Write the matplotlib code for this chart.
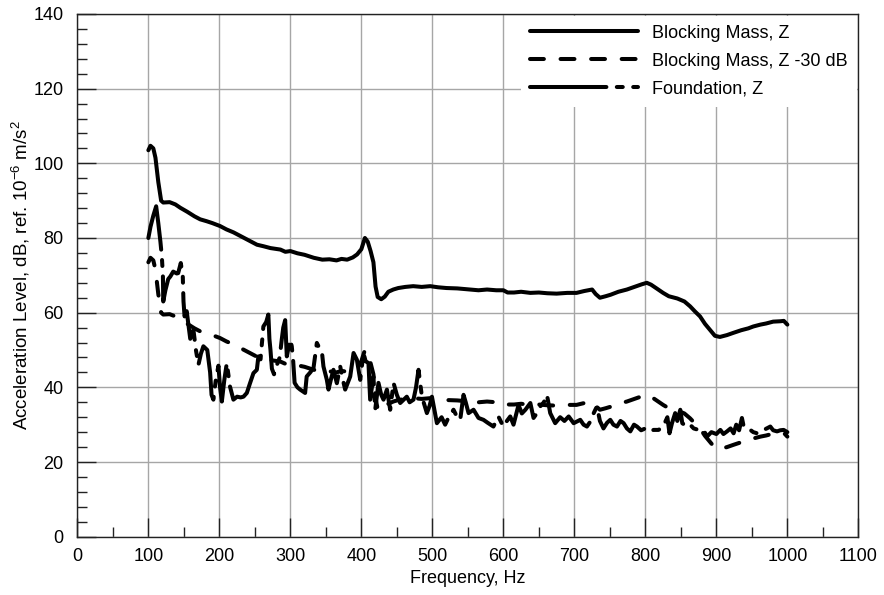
#!/usr/bin/env python

import numpy as np
import matplotlib
matplotlib.use("Agg")
import matplotlib.pyplot as plt
from matplotlib.ticker import MultipleLocator

# Blocking mass, Z (frequency in Hz, level in dB)
mass_freq = [100, 103, 107, 110, 114, 118, 121, 130, 138, 145, 155, 165, 173, 182,
             190, 201, 210, 220, 229, 240, 253, 262, 272, 286, 293, 300, 310, 320,
             333, 345, 355, 365, 372, 380, 388, 394, 400, 405, 409, 413, 417, 420,
             423, 428, 433, 438, 445, 452, 462, 473, 485, 497, 508, 520, 535, 553,
             565, 577, 590, 600, 606, 615, 625, 638, 650, 662, 675, 690, 703, 714,
             725, 730, 736, 744, 751, 762, 774, 786, 795, 802, 808, 815, 825, 833,
             845, 855, 863, 870, 877, 884, 891, 898, 905, 915, 924, 935, 945, 952,
             962, 970, 980, 990, 995, 1000]
mass_level = [103.5, 104.7, 104.0, 101.5, 95.0, 90.0, 89.5, 89.6, 89.0, 88.1, 87.0,
              85.8, 85.0, 84.5, 84.0, 83.2, 82.3, 81.5, 80.6, 79.5, 78.2, 77.8, 77.3,
              76.9, 76.3, 76.5, 75.9, 75.5, 74.7, 74.2, 74.3, 74.0, 74.4, 74.2, 74.8,
              75.6, 77.0, 80.0, 79.0, 76.5, 73.5, 67.0, 64.2, 63.6, 64.3, 65.6, 66.2,
              66.6, 66.9, 67.1, 66.9, 67.1, 66.8, 66.6, 66.5, 66.2, 66.0, 66.2, 66.0,
              66.0, 65.4, 65.4, 65.6, 65.3, 65.4, 65.2, 65.1, 65.3, 65.3, 65.8, 66.2,
              65.0, 64.0, 64.4, 64.8, 65.6, 66.2, 67.0, 67.6, 68.0, 67.5, 66.6, 65.3,
              64.4, 63.8, 63.0, 61.7, 60.3, 59.0, 57.0, 55.4, 53.8, 53.5, 54.0, 54.6,
              55.3, 55.8, 56.3, 56.8, 57.1, 57.6, 57.7, 57.8, 56.8]

# the second curve is the same measurement shifted down
offset_db = 30

# Foundation, Z
fdn_freq = [100, 103, 107, 111, 114, 117, 119, 120.5, 121, 124, 128, 131, 135, 140,
            142, 145.7, 148.5, 149.5, 151, 154, 157, 159, 163.5, 167, 170.5, 174,
            177.5, 183, 187, 189, 191.6, 195, 198.7, 201, 203.5, 207, 210.5, 213,
            215, 219.8, 225, 230, 234, 238.7, 243, 248, 252.8, 255, 258, 262, 266,
            269, 270.5, 272, 274, 277, 281, 285, 288, 290, 292.7, 295, 299.7, 302,
            304, 306, 310, 313.8, 320.8, 323, 328, 332.6, 337.3, 341, 344.4, 346.6,
            351.4, 353.7, 357, 360.7, 365.5, 370.2, 374, 377.2, 384.3, 389, 393.7,
            398.4, 403, 406, 410, 412.4, 417, 419.5, 424.1, 428, 431.2, 436, 440.6,
            445.3, 450, 454.7, 464, 468, 473.4, 477, 480.5, 485.3, 492.3, 496,
            499.4, 506.4, 513, 518, 523, 529.8, 535, 539.2, 543.9, 547, 551, 558,
            565, 572, 578, 586, 593, 600, 605, 609.7, 614.3, 621.4, 626, 631, 638,
            642.5, 647, 652, 657, 661.4, 666, 673, 680, 686, 692, 699, 708.3, 713,
            717.7, 722.4, 727, 731.8, 736, 741, 746, 750.6, 755, 760, 765, 769.4,
            774, 778.8, 784, 788.2, 794, 800, 806, 811.6, 818.6, 825, 831, 834,
            837.5, 842, 845, 849.2, 852, 858, 863, 868, 875, 882, 886.8, 893, 900,
            905.6, 910, 915, 920, 924.3, 928, 932, 936, 938.5, 943, 947.8, 952,
            957.3, 962, 966.6, 971, 976, 980, 985.5, 990, 994.8, 1000]
fdn_level = [80.0, 83.0, 86.0, 88.5, 84.0, 79.0, 75.0, 70.0, 63.0, 66.0, 69.0, 69.7,
             71.0, 70.5, 70.6, 73.3, 69.7, 63.0, 59.0, 60.4, 56.0, 53.0, 55.4, 50.0,
             46.0, 49.0, 51.0, 50.0, 44.0, 38.0, 36.7, 42.0, 45.8, 40.0, 36.2, 42.0,
             46.5, 43.0, 40.2, 36.7, 37.5, 37.3, 37.5, 38.5, 41.0, 43.8, 44.7, 48.3,
             47.5, 56.3, 57.5, 59.5, 53.0, 50.0, 45.0, 43.5, 46.0, 48.0, 53.0, 56.0,
             58.0, 48.3, 52.8, 51.0, 47.0, 41.2, 40.0, 39.4, 38.5, 42.9, 44.0, 45.2,
             51.9, 50.5, 49.6, 45.6, 42.0, 39.4, 42.0, 44.7, 41.1, 45.6, 42.0, 39.4,
             42.9, 49.2, 47.4, 42.0, 49.2, 47.0, 46.5, 36.7, 42.9, 34.0, 41.2, 38.0,
             36.7, 39.4, 34.0, 41.2, 38.0, 35.8, 37.5, 36.0, 36.7, 40.0, 44.7, 37.5,
             33.1, 35.0, 37.5, 30.4, 32.0, 30.0, 32.0, 34.0, 32.0, 31.3, 38.0, 36.0,
             33.1, 34.0, 31.8, 31.3, 30.5, 29.5, 32.2, 29.5, 31.0, 32.2, 30.0, 35.3,
             33.0, 34.0, 35.8, 31.8, 33.0, 34.9, 36.0, 38.0, 33.1, 30.4, 32.0, 31.0,
             32.2, 30.4, 31.3, 30.0, 29.5, 30.8, 33.0, 34.9, 31.0, 29.0, 30.5, 31.3,
             30.0, 29.5, 31.0, 30.4, 29.0, 28.2, 30.0, 29.5, 28.5, 29.0, 28.2, 28.6,
             28.6, 29.5, 32.0, 27.7, 30.4, 33.1, 31.0, 34.0, 30.4, 29.5, 30.0, 29.0,
             28.6, 28.6, 26.8, 28.0, 27.5, 28.6, 27.5, 28.2, 29.0, 27.7, 30.0, 28.5,
             31.8, 29.5, 29.0, 28.6, 28.0, 27.7, 28.3, 28.6, 29.0, 29.5, 28.5, 28.2,
             28.5, 28.6, 28.0]

labels = ["Blocking Mass, Z", "Blocking Mass, Z -30 dB", "Foundation, Z"]


def main():
    plt.rcParams['font.family'] = ['Liberation Sans', 'DejaVu Sans']
    plt.rcParams['mathtext.fontset'] = 'custom'
    plt.rcParams['mathtext.rm'] = 'Liberation Sans'
    plt.rcParams['mathtext.it'] = 'Liberation Sans:italic'
    plt.rcParams['lines.scale_dashes'] = False

    fig = plt.figure(figsize=(8.84, 5.95), dpi=100)
    ax = fig.add_axes([0.0875, 0.098, 0.8835, 0.8785])

    mass = np.array(mass_level)
    lw = 2.9
    ax.plot(mass_freq, mass, color='black', lw=lw, solid_capstyle='round',
            solid_joinstyle='round', label=labels[0], zorder=3)
    ax.plot(mass_freq, mass - offset_db, color='black', lw=lw,
            linestyle=(0, (10, 12)), dash_capstyle='round',
            dash_joinstyle='round', label=labels[1], zorder=3)
    ax.plot(fdn_freq, fdn_level, color='black', lw=lw,
            linestyle=(0, (55, 7.5, 4.3, 7.5)), dash_capstyle='round',
            dash_joinstyle='round', label=labels[2], zorder=3)

    ax.set_xlim(0, 1100)
    ax.set_ylim(0, 140)
    ax.xaxis.set_major_locator(MultipleLocator(100))
    ax.xaxis.set_minor_locator(MultipleLocator(50))
    ax.yaxis.set_major_locator(MultipleLocator(20))
    ax.yaxis.set_minor_locator(MultipleLocator(4))
    ax.grid(True, which='major', color='#a6a6a6', lw=1.0, zorder=0)
    ax.set_axisbelow(True)

    fs = 13
    ax.tick_params(which='both', direction='in', top=False, right=False,
                   colors='#222222', labelcolor='black', labelsize=fs, width=1)
    ax.tick_params(which='major', length=14)
    ax.tick_params(which='minor', length=7)
    ax.tick_params(axis='y', pad=10)
    ax.tick_params(axis='x', pad=8)
    for side in ['left', 'bottom', 'right', 'top']:
        ax.spines[side].set_color('#222222')
        ax.spines[side].set_linewidth(1.0)

    ax.set_xlabel("Frequency, Hz", fontsize=fs, labelpad=4)
    ax.set_ylabel(r"Acceleration Level, dB, ref. 10$^{-6}$ m/s$^2$",
                  fontsize=13.5, labelpad=1)

    leg = ax.legend(loc='upper right', fontsize=fs, handlelength=6.0,
                    handletextpad=0.75, borderaxespad=0.1, borderpad=0.5,
                    labelspacing=0.6, frameon=True, fancybox=False,
                    framealpha=1, facecolor='white', edgecolor='none')
    leg.set_zorder(5)

    fig.savefig("out.png", dpi=100)


if __name__ == "__main__":
    main()
